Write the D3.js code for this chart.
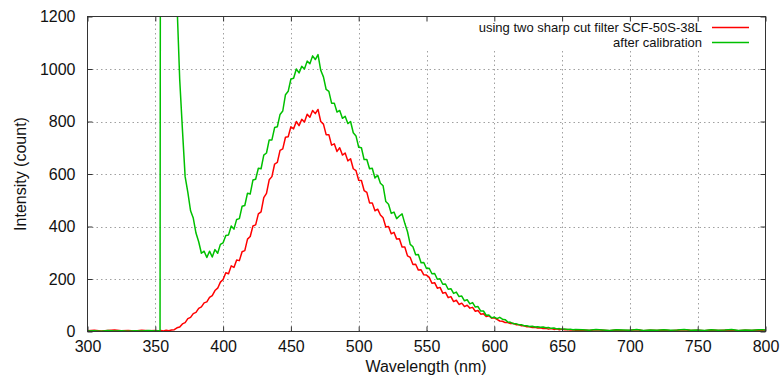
<!DOCTYPE html>
<html>
<head>
<meta charset="utf-8">
<script src="https://cdn.jsdelivr.net/npm/d3@7.9.0/dist/d3.min.js"></script>
<style>
  body { margin: 0; background: #fff; }
  svg { display: block; font-family: "Liberation Sans", Arial, sans-serif; }
</style>
</head>
<body>
<svg id="chart" width="780" height="382"></svg>
<script>
// wavelength samples (nm)
const wavelengths = [
  300,305,310,315,320,325,330,335,340,345,350,352,353.5,
  354,356,358,360,362,364,366,368,370,372,374,376,378,380,382,384,386,388,390,392,394,396,398,400,
  402,404,406,408,410,412,414,416,418,420,422,424,426,428,430,432,434,436,438,440,442,444,446,448,450,
  452,454,456,458,460,462,464,466,468,470,472,474,476,478,480,482,484,486,488,490,492,494,496,498,500,
  502,504,506,508,510,512,514,516,518,520,522,524,526,528,530,532,534,536,538,540,542,544,546,548,550,
  552,554,556,558,560,562,564,566,568,570,572,574,576,578,580,582,584,586,588,590,592,594,596,598,600,
  602,604,606,608,610,612,614,616,618,620,622,624,626,628,630,632,634,636,638,640,642,644,646,648,650,
  652,654,656,658,660,
  665,670,675,680,685,690,695,700,705,710,715,720,725,730,735,740,745,750,755,760,765,770,775,780,785,790,795,800
];

// red: using two sharp cut filter SCF-50S-38L
const filteredCounts = [
  3,5,2,4,6,3,4,2,5,3,4,3,2,
  4,2,5,3,6,7,14,17,29,34,49,54,68,73,88,94,109,113,130,137,156,165,188,198,
  224,220,250,244,272,270,304,308,352,362,402,406,448,456,510,526,578,590,638,644,690,696,740,742,780,
  772,800,784,808,798,828,816,842,830,846,800,790,750,750,710,715,686,700,672,680,650,658,620,613,576,
  575,537,530,490,490,460,466,444,433,398,400,372,378,352,353,322,322,288,282,255,256,234,235,216,215,
  206,184,186,165,168,146,149,129,133,114,119,103,108,95,100,89,92,77,80,66,68,57,60,51,52,
  46,40,39,34,34,30,31,26,26,22,22,18,18,15,16,13,14,11,12,9,11,8,10,7,9,
  7,8,6,7,5,
  6,4,7,5,3,6,4,5,7,3,5,4,6,3,5,7,4,5,3,6,4,5,6,3,5,4,6,5
];

// green: after calibration (goes off scale below ~366 nm)
const calibratedCounts = [
  2,3,1,4,2,3,1,3,2,4,2,3,1,
  3000,3000,3000,3000,3000,3000,1250,960,770,590,530,460,432,375,342,298,306,282,306,284,312,298,332,338,
  366,368,402,390,427,430,477,480,527,524,577,580,622,620,672,680,730,730,777,780,827,840,902,915,962,
  965,1000,985,1010,1000,1030,1020,1050,1036,1055,995,970,922,915,870,870,836,842,812,820,792,800,757,745,702,
  700,655,655,620,622,585,595,565,555,495,485,450,455,430,440,448,412,380,332,323,292,293,262,263,240,
  241,220,221,199,201,180,181,161,163,145,150,133,135,117,121,105,110,93,95,78,78,62,63,52,55,
  49,54,47,45,36,35,30,30,26,26,22,22,19,20,17,18,16,17,14,15,12,13,10,11,9,
  10,8,9,7,8,
  7,5,8,6,4,7,6,5,8,4,6,5,7,5,6,8,5,6,4,7,5,6,8,4,6,5,7,6
];

const xTicks = [300,350,400,450,500,550,600,650,700,750,800];
const yTicks = [0,200,400,600,800,1000,1200];
const seriesNames = ["using two sharp cut filter SCF-50S-38L", "after calibration"];
const seriesColors = ["#ff0000", "#00c000"];

const plotLeft = 87.5, plotRight = 765.5, plotTop = 16.5, plotBottom = 331.5;

const svg = d3.select("#chart");
const x = d3.scaleLinear().domain([300, 800]).range([plotLeft, plotRight]);
const y = d3.scaleLinear().domain([0, 1200]).range([plotBottom, plotTop]);

svg.append("defs").append("clipPath").attr("id", "plot-clip")
  .append("rect").attr("x", plotLeft).attr("y", plotTop)
  .attr("width", plotRight - plotLeft).attr("height", plotBottom - plotTop);

// grid
const grid = svg.append("g").attr("stroke", "#a0a0a0").attr("stroke-width", 1)
  .attr("stroke-dasharray", "1.5,3");
grid.selectAll(".gx").data(xTicks.slice(1, -1)).join("line")
  .attr("x1", d => Math.round(x(d)) + 0.5).attr("x2", d => Math.round(x(d)) + 0.5)
  .attr("y1", plotBottom).attr("y2", plotTop);
grid.selectAll(".gy").data(yTicks.slice(1, -1)).join("line")
  .attr("y1", d => Math.round(y(d)) + 0.5).attr("y2", d => Math.round(y(d)) + 0.5)
  .attr("x1", plotLeft).attr("x2", plotRight);

// key area hides the grid
svg.append("rect").attr("x", 420).attr("y", plotTop + 0.5)
  .attr("width", plotRight - 420 - 0.5).attr("height", 34).attr("fill", "#fff");

// data
const plot = svg.append("g").attr("clip-path", "url(#plot-clip)");
const line = d3.line().x(d => x(d[0])).y(d => y(d[1]));
[filteredCounts, calibratedCounts].forEach((vals, i) => {
  plot.append("path")
    .datum(wavelengths.map((w, j) => [w, vals[j]]))
    .attr("fill", "none")
    .attr("stroke", seriesColors[i])
    .attr("stroke-width", 1.5)
    .attr("stroke-linejoin", "round")
    .attr("d", line);
});

// axes with mirrored inward ticks
const tickLen = 5;
const axisColor = "#333";
const xb = d3.axisBottom(x).tickValues(xTicks).tickSizeInner(-tickLen).tickSizeOuter(0).tickPadding(9);
const xt = d3.axisTop(x).tickValues(xTicks).tickSizeInner(-tickLen).tickSizeOuter(0).tickFormat("");
const yl = d3.axisLeft(y).tickValues(yTicks).tickFormat(d3.format("d"))
  .tickSizeInner(-tickLen).tickSizeOuter(0).tickPadding(12);
const yr = d3.axisRight(y).tickValues(yTicks).tickSizeInner(-tickLen).tickSizeOuter(0).tickFormat("");

function styleAxis(g) {
  g.select(".domain").remove();
  g.selectAll(".tick line").attr("stroke", axisColor);
  g.selectAll("text").attr("font-size", 16).attr("fill", "#111")
    .attr("font-family", "'Liberation Sans', Arial, sans-serif");
}
svg.append("g").attr("transform", `translate(0,${plotBottom})`).call(xb).call(styleAxis);
svg.append("g").attr("transform", `translate(0,${plotTop})`).call(xt).call(styleAxis);
svg.append("g").attr("transform", `translate(${plotLeft},0)`).call(yl).call(styleAxis);
svg.append("g").attr("transform", `translate(${plotRight},0)`).call(yr).call(styleAxis);

svg.append("rect").attr("x", plotLeft).attr("y", plotTop)
  .attr("width", plotRight - plotLeft).attr("height", plotBottom - plotTop)
  .attr("fill", "none").attr("stroke", axisColor).attr("stroke-width", 1);

// axis titles
svg.append("text").attr("x", 426).attr("y", 372).attr("text-anchor", "middle")
  .attr("font-size", 16).attr("fill", "#111").text("Wavelength (nm)");
svg.append("text").attr("transform", "translate(26,174) rotate(-90)")
  .attr("text-anchor", "middle").attr("font-size", 16).attr("fill", "#111")
  .text("Intensity (count)");

// key
const key = svg.append("g");
seriesNames.forEach((name, i) => {
  const cy = 27.5 + i * 15;
  key.append("text").attr("x", 702).attr("y", cy + 4.5).attr("text-anchor", "end")
    .attr("font-size", 13).attr("fill", "#111").text(name);
  key.append("line").attr("x1", 712).attr("x2", 749).attr("y1", cy).attr("y2", cy)
    .attr("stroke", seriesColors[i]).attr("stroke-width", 1.5);
});
</script>
</body>
</html>
